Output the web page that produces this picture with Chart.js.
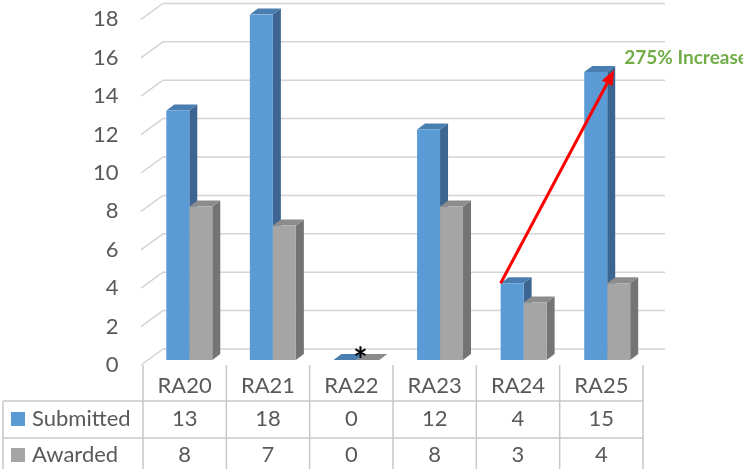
<!DOCTYPE html>
<html>
<head>
<meta charset="utf-8">
<script src="https://cdn.jsdelivr.net/npm/chart.js@4.4.1/dist/chart.umd.min.js"></script>
<style>
  body { margin: 0; background: #fff; }
  #wrap { width: 743px; height: 469px; position: relative; }
</style>
</head>
<body>
<div id="wrap"><canvas id="chart"></canvas></div>
<script>
// data
const categories = ['RA20', 'RA21', 'RA22', 'RA23', 'RA24', 'RA25'];
const submitted = [13, 18, 0, 12, 4, 15];
const awarded = [8, 7, 0, 8, 3, 4];
const seriesNames = ['Submitted', 'Awarded'];
const yTicks = [0, 2, 4, 6, 8, 10, 12, 14, 16, 18];
const note = '275% Increase';

const FONT = 'Lato, "Open Sans", sans-serif';
const TEXT = '#595959';
const colors = {
  front: ['#5B9BD5', '#A5A5A5'],
  top: ['#4A7DB0', '#8C8C8C'],
  side: ['#3C6591', '#747474']
};
const DX = 8, DY = 6;          // bar depth
const WALL_DX = 22, WALL_DY = 16; // floor / wall depth

// walls, gridlines and the depth faces of the bars
const depthPlugin = {
  id: 'depth',
  beforeDatasetsDraw(chart) {
    const ctx = chart.ctx, y = chart.scales.y, a = chart.chartArea;
    ctx.save();
    ctx.strokeStyle = '#D4D4D4';
    ctx.lineWidth = 1.5;
    yTicks.forEach(v => {
      const py = y.getPixelForValue(v);
      ctx.beginPath();
      ctx.moveTo(a.left - 6.5, py + 5);
      ctx.lineTo(a.left - 6.5 + WALL_DX, py + 5 - WALL_DY);
      ctx.lineTo(a.right + 16, py + 5 - WALL_DY);
      ctx.stroke();
    });
    chart.data.datasets.forEach((ds, di) => {
      const meta = chart.getDatasetMeta(di);
      meta.data.forEach(bar => {
        const l = bar.x - bar.width / 2, r = bar.x + bar.width / 2;
        ctx.fillStyle = colors.side[di];
        ctx.beginPath();
        ctx.moveTo(r, bar.y);
        ctx.lineTo(r + DX, bar.y - DY);
        ctx.lineTo(r + DX, bar.base - DY);
        ctx.lineTo(r, bar.base);
        ctx.closePath();
        ctx.fill();
        ctx.fillStyle = colors.top[di];
        ctx.beginPath();
        ctx.moveTo(l, bar.y);
        ctx.lineTo(l + DX, bar.y - DY);
        ctx.lineTo(r + DX, bar.y - DY);
        ctx.lineTo(r, bar.y);
        ctx.closePath();
        ctx.fill();
      });
    });
    ctx.restore();
  },
  afterDatasetsDraw(chart) {
    const ctx = chart.ctx, x = chart.scales.x, y = chart.scales.y, a = chart.chartArea;
    ctx.save();
    // data table
    const n = categories.length;
    const tLeft = a.left - 4.5, colW = 500 / n;
    const rowTop = [365, 401, 438], rowMid = [386, 419, 455];
    ctx.strokeStyle = '#C8C8C8';
    ctx.lineWidth = 1.5;
    ctx.beginPath();
    for (let i = 0; i <= n; i++) {
      ctx.moveTo(tLeft + i * colW, rowTop[0]);
      ctx.lineTo(tLeft + i * colW, 469);
    }
    ctx.moveTo(3, rowTop[1]); ctx.lineTo(3, 469);
    ctx.moveTo(3, rowTop[1]); ctx.lineTo(tLeft + n * colW, rowTop[1]);
    ctx.moveTo(3, rowTop[2]); ctx.lineTo(tLeft + n * colW, rowTop[2]);
    ctx.stroke();

    ctx.font = '22px ' + FONT;
    ctx.fillStyle = TEXT;
    ctx.textAlign = 'center';
    ctx.textBaseline = 'middle';
    categories.forEach((c, i) => {
      const cx = tLeft + (i + 0.5) * colW;
      ctx.fillText(c, cx, rowMid[0]);
      ctx.fillText(String(submitted[i]), cx, rowMid[1]);
      ctx.fillText(String(awarded[i]), cx, rowMid[2]);
    });
    ctx.textAlign = 'left';
    seriesNames.forEach((s, si) => {
      ctx.fillStyle = colors.front[si];
      ctx.fillRect(11, rowMid[si + 1] - 7, 14, 14);
      ctx.fillStyle = TEXT;
      ctx.fillText(s, 32, rowMid[si + 1]);
    });

    // arrow from RA24 to RA25 submitted
    const m = chart.getDatasetMeta(0).data;
    const b0 = m[4], b1 = m[5];
    const sx = b0.x - b0.width / 2, sy = b0.y;
    const ex = b1.x + b1.width / 2 + DX - 1, ey = b1.y - 2;
    const ang = Math.atan2(ey - sy, ex - sx);
    const hl = 15, hw = 6;
    const bx = ex - hl * Math.cos(ang), by = ey - hl * Math.sin(ang);
    ctx.strokeStyle = '#FF0000';
    ctx.fillStyle = '#FF0000';
    ctx.lineWidth = 3;
    ctx.beginPath();
    ctx.moveTo(sx, sy);
    ctx.lineTo(bx, by);
    ctx.stroke();
    ctx.beginPath();
    ctx.moveTo(ex, ey);
    ctx.lineTo(bx + hw * Math.sin(ang), by - hw * Math.cos(ang));
    ctx.lineTo(bx - hw * Math.sin(ang), by + hw * Math.cos(ang));
    ctx.closePath();
    ctx.fill();

    ctx.font = 'bold 19px ' + FONT;
    ctx.fillStyle = '#70AD47';
    ctx.textAlign = 'left';
    ctx.fillText(note, ex + 10, ey - 12);

    // asterisk over the empty RA22 bars
    ctx.font = 'bold 34px ' + FONT;
    ctx.fillStyle = '#000';
    ctx.textAlign = 'center';
    ctx.fillText('*', x.getPixelForValue(2) + 4, y.getPixelForValue(0) + 1);
    ctx.restore();
  }
};

new Chart(document.getElementById('chart'), {
  type: 'bar',
  data: {
    labels: categories,
    datasets: [
      { label: seriesNames[0], data: submitted, backgroundColor: colors.front[0] },
      { label: seriesNames[1], data: awarded, backgroundColor: colors.front[1] }
    ]
  },
  options: {
    responsive: true,
    maintainAspectRatio: false,
    animation: false,
    events: [],
    layout: { padding: { left: 0, right: 94, top: 14.4, bottom: 109 } },
    datasets: { bar: { categoryPercentage: 0.55, barPercentage: 1, borderWidth: 0 } },
    plugins: { legend: { display: false }, tooltip: { enabled: false } },
    scales: {
      x: { display: false },
      y: {
        min: 0, max: 18,
        afterFit(s) { s.width = 147.5; s.paddingTop = 0; s.paddingBottom = 0; },
        grid: { display: false, drawTicks: false },
        border: { display: false },
        ticks: {
          stepSize: 2, padding: 29, labelOffset: 5,
          color: TEXT, font: { family: FONT, size: 22 }
        }
      }
    }
  },
  plugins: [depthPlugin]
});
</script>
</body>
</html>
